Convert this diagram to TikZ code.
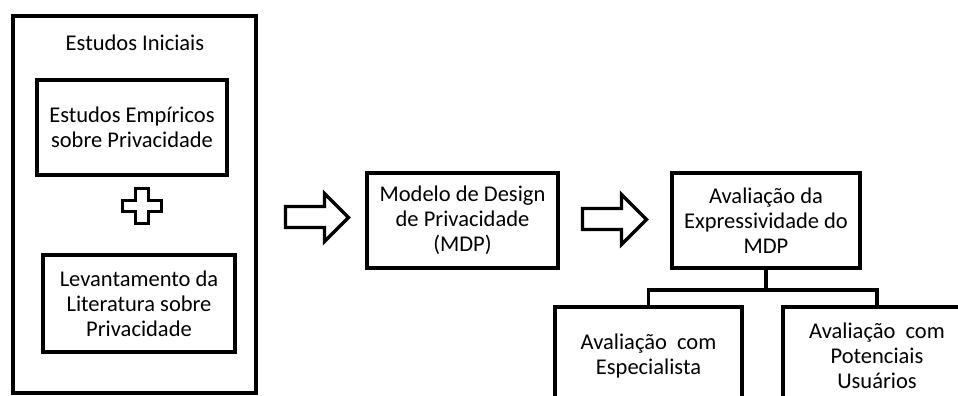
\documentclass[tikz,border=0pt]{standalone}
\usepackage{fontspec}
\setmainfont{Carlito}
\begin{document}
\begin{tikzpicture}[x=1pt,y=-1pt,
  box/.style={draw,line width=3.2pt,align=center,inner sep=0pt,
    font=\fontsize{22.5}{25}\selectfont},
  lbl/.style={align=center,inner sep=0pt,font=\fontsize{22.5}{25}\selectfont},
  blockarrow/.style={draw,line width=3.2pt,line join=miter,fill=white},
  link/.style={draw,line width=3.2pt}]
\useasboundingbox (0,0) rectangle (958,396);
\clip (0,0) rectangle (958,396);

% left group: initial studies
\node[box,minimum width=243pt,minimum height=377pt] (outer) at (134.5,204.5) {};
\node[lbl] (title) at (135,43) {Estudos Iniciais};
\node[box,minimum width=190pt,minimum height=95pt] (emp) at (132,127.5)
  {Estudos Empíricos\\sobre Privacidade};
\node[box,minimum width=192pt,minimum height=97pt] (lit) at (139,303.5)
  {Levantamento da\\Literatura sobre\\Privacidade};

% plus sign between the two studies
\draw[blockarrow] (135.5,188.5) -- (148.5,188.5) -- (148.5,200.5) -- (161.5,200.5)
  -- (161.5,211.5) -- (148.5,211.5) -- (148.5,223.5) -- (135.5,223.5)
  -- (135.5,211.5) -- (122.5,211.5) -- (122.5,200.5) -- (135.5,200.5) -- cycle;

% model box and evaluation box
\node[box,minimum width=191pt,minimum height=95pt] (mdp) at (462.5,220.5)
  {Modelo de Design\\de Privacidade\\(MDP)};
\node[box,minimum width=188pt,minimum height=95pt] (aval) at (766,220.5)
  {Avaliação da\\Expressividade do\\MDP};

% block arrows
\draw[blockarrow] (285.5,206.5) -- (324.5,206.5) -- (324.5,193.5) -- (348.5,217.5)
  -- (324.5,241.5) -- (324.5,227.5) -- (285.5,227.5) -- cycle;
\draw[blockarrow] (582.5,208.5) -- (621.5,208.5) -- (621.5,194.5) -- (646.5,219.5)
  -- (621.5,244.5) -- (621.5,229.5) -- (582.5,229.5) -- cycle;

% evaluation sub-boxes
\node[box,minimum width=187pt,minimum height=98pt] (esp) at (648.5,356)
  {Avaliação\ \ com\\Especialista};
\node[box,minimum width=188pt,minimum height=98pt] (usu) at (877,356)
  {Avaliação\ \ com\\Potenciais\\Usuários};

% tree connector
\coordinate (fork) at (aval.south |- 0,290);
\draw[link] (aval.south) -- (fork);
\draw[link,line join=miter] (esp.north) -- (esp.north |- fork) -- (usu.north |- fork) -- (usu.north);
\end{tikzpicture}
\end{document}
